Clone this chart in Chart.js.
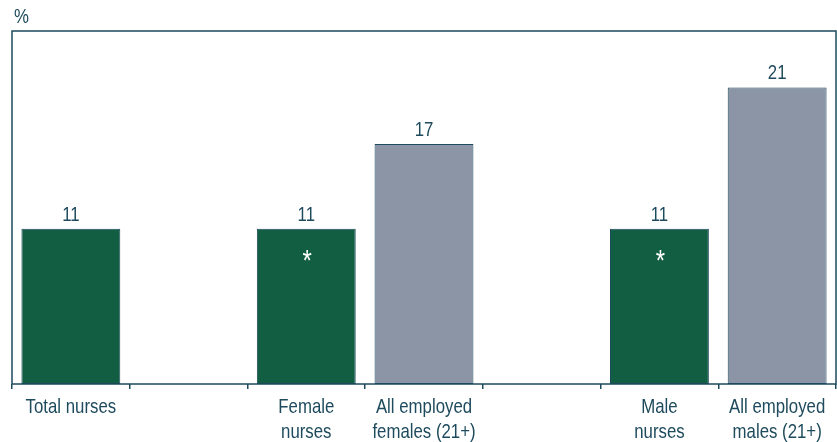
<!DOCTYPE html>
<html>
<head>
<meta charset="utf-8">
<script src="https://cdn.jsdelivr.net/npm/chart.js@4.4.1/dist/chart.umd.min.js"></script>
<style>
  html, body { margin: 0; padding: 0; background: #fff; }
  #wrap { width: 837px; height: 442px; }
</style>
</head>
<body>
<div id="wrap"><canvas id="nursesChart" width="837" height="442"></canvas></div>
<script>
// categories (blank slots separate the groups)
const categories = [
    'Total nurses',
    '',
    ['Female', 'nurses'],
    ['All employed', 'females (21+)'],
    '',
    ['Male', 'nurses'],
    ['All employed', 'males (21+)']
];
const values = [11, null, 11, 17, null, 11, 21];
const flagged = [false, false, true, false, false, true, false];
const barColors = ['#115e42', '#115e42', '#115e42', '#8c95a5', '#8c95a5', '#115e42', '#8c95a5'];

const inkColor = '#1d4a5c';
const fontName = '"Liberation Sans", Arial, sans-serif';
const narrow = 0.8;

// condensed text: squeeze the glyphs horizontally around x
function narrowText(ctx, text, x, y, size, color) {
    ctx.save();
    ctx.font = size + 'px ' + fontName;
    ctx.fillStyle = color;
    ctx.translate(x, y);
    ctx.scale(narrow, 1);
    ctx.fillText(text, 0, 0);
    ctx.restore();
}

// draws the frame, the % unit, category labels, value labels and asterisks
const annotations = {
    id: 'annotations',
    afterDatasetsDraw(chart) {
        const ctx = chart.ctx;
        const area = chart.chartArea;
        ctx.save();
        ctx.strokeStyle = inkColor;
        ctx.lineWidth = 1.5;
        ctx.strokeRect(area.left, area.top, area.right - area.left, area.bottom - area.top);

        ctx.textBaseline = 'alphabetic';
        ctx.textAlign = 'left';
        narrowText(ctx, '%', 14, 23, 21, inkColor);

        ctx.textAlign = 'center';
        const xScale = chart.scales.x;
        categories.forEach((cat, i) => {
            const lines = Array.isArray(cat) ? cat : [cat];
            const cx = xScale.getPixelForValue(i);
            lines.forEach((line, j) => {
                narrowText(ctx, line, cx, area.bottom + 29 + j * 25, 21, inkColor);
            });
        });

        const meta = chart.getDatasetMeta(0);
        meta.data.forEach((bar, i) => {
            if (values[i] === null) return;
            narrowText(ctx, String(values[i]), bar.x, bar.y - 8, 21, inkColor);
            if (flagged[i]) {
                narrowText(ctx, '*', bar.x + 1, bar.y + 41, 30, '#ffffff');
            }
        });
        ctx.restore();
    }
};

new Chart(document.getElementById('nursesChart'), {
    type: 'bar',
    data: {
        labels: categories,
        datasets: [{
            data: values,
            backgroundColor: barColors,
            borderColor: inkColor,
            borderWidth: 1,
            borderSkipped: false,
            barPercentage: 0.84,
            categoryPercentage: 1.0
        }]
    },
    options: {
        responsive: false,
        animation: false,
        layout: { padding: { left: 12, right: 1, top: 31, bottom: 0 } },
        plugins: {
            legend: { display: false },
            tooltip: { enabled: false }
        },
        scales: {
            x: {
                offset: true,
                grid: {
                    offset: true,
                    drawOnChartArea: false,
                    drawTicks: true,
                    tickLength: 5,
                    color: inkColor,
                    lineWidth: 1.5
                },
                border: { display: false },
                ticks: { display: false, autoSkip: false },
                afterFit(scale) { scale.height = 58; }
            },
            y: {
                display: false,
                min: 0,
                max: 25
            }
        }
    },
    plugins: [annotations]
});
</script>
</body>
</html>
